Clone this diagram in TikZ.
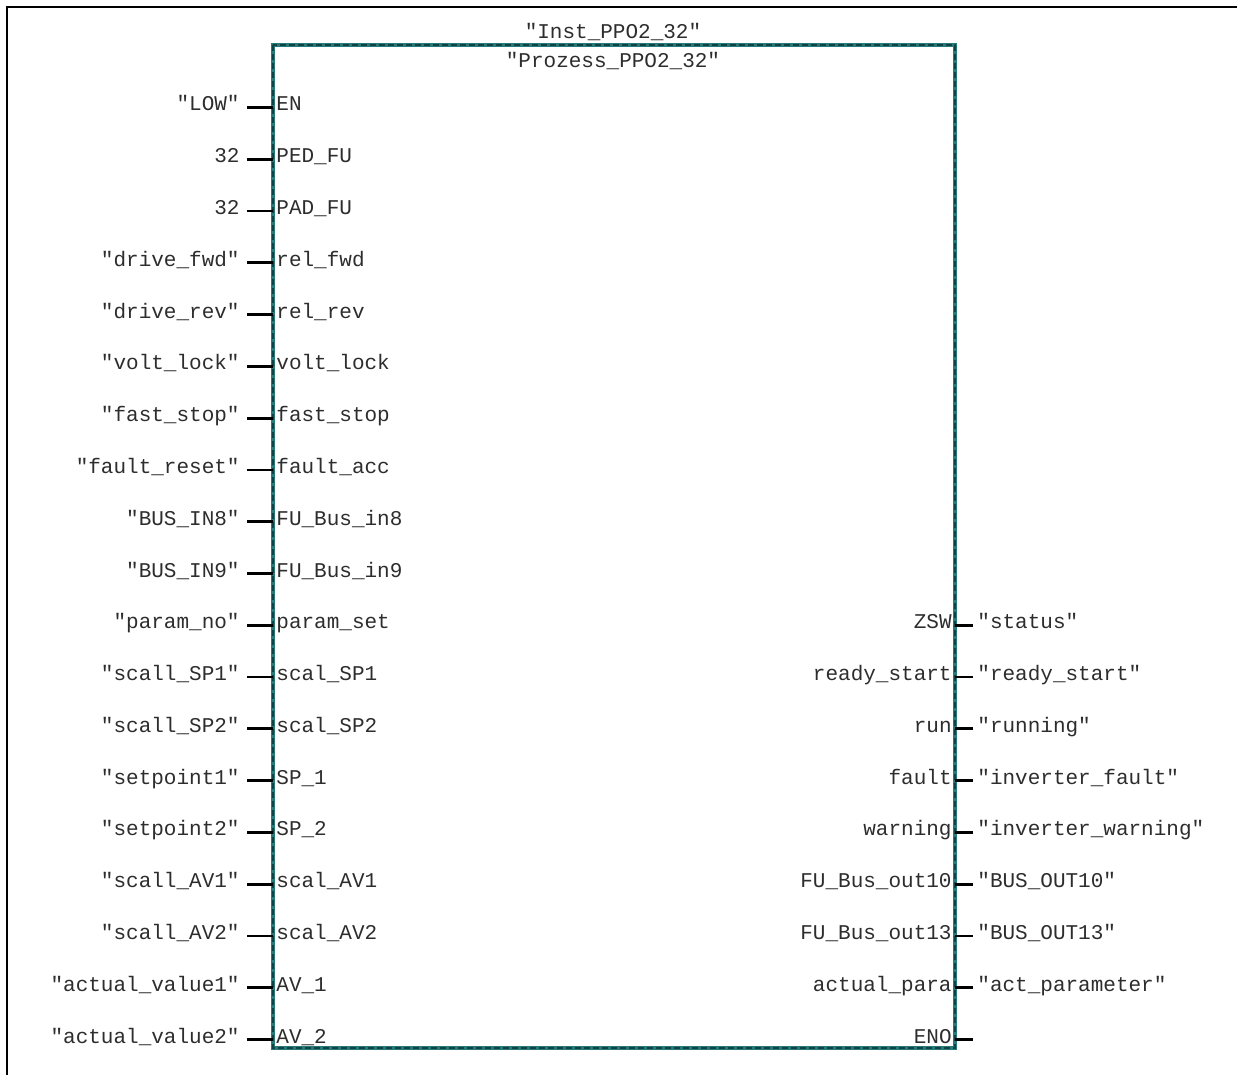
\documentclass[tikz,border=0pt]{standalone}
\usepackage{fontspec}
\setmonofont{Liberation Mono}
\usepackage{tikz}
\definecolor{fbteal}{RGB}{38,122,122}
\definecolor{fbdash}{RGB}{18,66,66}
\definecolor{pintext}{RGB}{45,45,45}

\tikzset{
  pinlabel/.style={font=\ttfamily\fontsize{10.5}{12}\selectfont, text=pintext, inner sep=1.5pt, text height=6pt, text depth=2.5pt},
  pinwire/.style={line width=1.4pt, black},
  blockframe/.style={line width=2.4pt, fbteal},
  blockdash/.style={line width=0.6pt, fbdash, dash pattern=on 3pt off 1.5pt}
}

\begin{document}
\begin{tikzpicture}[x=0.5pt, y=-0.5pt]
  \useasboundingbox (0,0) rectangle (1237,1075);
  % outer frame
  \draw[line width=1.2pt] (7,1075) -- (7,7) -- (1237,7);

  % block
  \coordinate (fbnw) at (273,45);
  \coordinate (fbse) at (955,1048);
  \draw[blockframe] (fbnw) rectangle (fbse);
  \draw[blockdash] (fbnw) rectangle (fbse);
  \node[pinlabel] (inst) at (613,35) {"Inst\_PPO2\_32"};
  \node[pinlabel] (fbname) at (613,64) {"Prozess\_PPO2\_32"};

  % inputs
  \foreach \pin/\sig [count=\i from 0] in {EN/"LOW", PED\_FU/32, PAD\_FU/32,
      rel\_fwd/"drive\_fwd", rel\_rev/"drive\_rev", volt\_lock/"volt\_lock",
      fast\_stop/"fast\_stop", fault\_acc/"fault\_reset", FU\_Bus\_in8/"BUS\_IN8",
      FU\_Bus\_in9/"BUS\_IN9", param\_set/"param\_no", scal\_SP1/"scall\_SP1",
      scal\_SP2/"scall\_SP2", SP\_1/"setpoint1", SP\_2/"setpoint2",
      scal\_AV1/"scall\_AV1", scal\_AV2/"scall\_AV2", AV\_1/"actual\_value1",
      AV\_2/"actual\_value2"} {
    \pgfmathsetmacro{\py}{107.5+51.78*\i}
    \node[pinlabel, anchor=west] (in\i) at (273,\py) {\pin};
    \node[pinlabel, anchor=east, inner xsep=3.5pt] (sig\i) at (247,\py) {\sig};
    \draw[pinwire] (sig\i.east) -- (in\i.west);
  }

  % outputs
  \foreach \pin/\sig [count=\i from 10] in {ZSW/"status", ready\_start/"ready\_start",
      run/"running", fault/"inverter\_fault", warning/"inverter\_warning",
      FU\_Bus\_out10/"BUS\_OUT10", FU\_Bus\_out13/"BUS\_OUT13",
      actual\_para/"act\_parameter"} {
    \pgfmathsetmacro{\py}{107.5+51.78*\i}
    \node[pinlabel, anchor=east] (out\i) at (955,\py) {\pin};
    \node[pinlabel, anchor=west, inner xsep=2pt] (res\i) at (973,\py) {\sig};
    \draw[pinwire] (out\i.east) -- (res\i.west);
  }
  \node[pinlabel, anchor=east] (eno) at (955,1039.5) {ENO};
  \coordinate (enoend) at (973,1039.5);
  \draw[pinwire] (eno.east) -- (enoend);
\end{tikzpicture}
\end{document}
